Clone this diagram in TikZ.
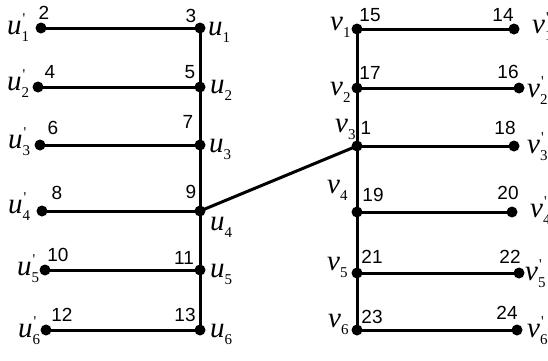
\documentclass[tikz,border=0pt]{standalone}
\usepackage{fontspec}
\setmainfont{Liberation Serif}
\newfontfamily\numfont{Liberation Sans}
\newcommand\lbl[2]{{\fontsize{29}{29}\selectfont\itshape #1}{\fontsize{15}{15}\selectfont\raisebox{-7pt}{#2}}}
\newcommand\plbl[2]{{\fontsize{29}{29}\selectfont\itshape #1}{\fontsize{15}{15}\selectfont\raisebox{-7pt}{\rlap{\hspace{1pt}\raisebox{18pt}{\textquotesingle}}#2}}}
\begin{document}
\begin{tikzpicture}[x=1pt,y=-1pt,
  dot/.style={circle,fill=black,inner sep=0pt,minimum size=11pt},
  edge/.style={line width=3pt},
  num/.style={inner sep=0pt,font=\numfont\fontsize{19}{19}\selectfont},
  lab/.style={inner sep=0pt,anchor=base west}]
\useasboundingbox (0,0) rectangle (548,360);
% left
\node[dot] (u1) at (200,28) {};
\node[dot] (u2) at (200,87) {};
\node[dot] (u3) at (200,145) {};
\node[dot] (u4) at (200,211) {};
\node[dot] (u5) at (200,270) {};
\node[dot] (u6) at (200,330) {};
\node[dot] (up1) at (41,28) {};
\node[dot] (up2) at (38,87) {};
\node[dot] (up3) at (40,145) {};
\node[dot] (up4) at (42,211) {};
\node[dot] (up5) at (45,270) {};
\node[dot] (up6) at (46,330) {};
% right
\node[dot] (v1) at (357,29) {};
\node[dot] (v2) at (357,88) {};
\node[dot] (v3) at (357,146) {};
\node[dot] (v4) at (357,212) {};
\node[dot] (v5) at (357,273) {};
\node[dot] (v6) at (357,330) {};
\node[dot] (vp1) at (514,29) {};
\node[dot] (vp2) at (519,88) {};
\node[dot] (vp3) at (514,146) {};
\node[dot] (vp4) at (512,212) {};
\node[dot] (vp5) at (519,273) {};
\node[dot] (vp6) at (517,330) {};
% edges
\draw[edge] (u1.center) -- (u2.center) -- (u3.center) -- (u4.center) -- (u5.center) -- (u6.center);
\draw[edge] (v1.center) -- (v2.center) -- (v3.center) -- (v4.center) -- (v5.center) -- (v6.center);
\foreach \i in {1,...,6}{
  \draw[edge] (up\i.center) -- (u\i.center);
  \draw[edge] (v\i.center) -- (vp\i.center);
}
\draw[edge] (u4.center) -- (v3.center);
% numbers
\node[num] (n2) at (44,13) {2};
\node[num] (n3) at (191,16) {3};
\node[num] (n4) at (50,72) {4};
\node[num] (n5) at (190,72) {5};
\node[num] (n6) at (53,128) {6};
\node[num] (n7) at (188,122) {7};
\node[num] (n8) at (57,193) {8};
\node[num] (n9) at (191,192) {9};
\node[num] (n10) at (58,255) {10};
\node[num] (n11) at (184,258) {11};
\node[num] (n12) at (62,315) {12};
\node[num] (n13) at (185,315) {13};
\node[num] (n15) at (370,15) {15};
\node[num] (n14) at (503,15) {14};
\node[num] (n17) at (370,73) {17};
\node[num] (n16) at (508,72) {16};
\node[num] (n1) at (366,128) {1};
\node[num] (n18) at (505,128) {18};
\node[num] (n19) at (373,195) {19};
\node[num] (n20) at (508,193) {20};
\node[num] (n21) at (372,257) {21};
\node[num] (n22) at (510,257) {22};
\node[num] (n23) at (372,317) {23};
\node[num] (n24) at (507,313) {24};
% letter labels
\node[lab] (lu1) at (208,35) {\lbl{u}{1}};
\node[lab] (lu2) at (210,93) {\lbl{u}{2}};
\node[lab] (lu3) at (209,152) {\lbl{u}{3}};
\node[lab] (lu4) at (210,230) {\lbl{u}{4}};
\node[lab] (lu5) at (210,277) {\lbl{u}{5}};
\node[lab] (lu6) at (210,337) {\lbl{u}{6}};
\node[lab] (lup1) at (7,34) {\plbl{u}{1}};
\node[lab] (lup2) at (7,90) {\plbl{u}{2}};
\node[lab] (lup3) at (8,148) {\plbl{u}{3}};
\node[lab] (lup4) at (8,213) {\plbl{u}{4}};
\node[lab] (lup5) at (17,275) {\plbl{u}{5}};
\node[lab] (lup6) at (18,337) {\plbl{u}{6}};
\node[lab] (lv1) at (330,30) {\lbl{v}{1}};
\node[lab] (lv2) at (330,95) {\lbl{v}{2}};
\node[lab] (lv3) at (335,132) {\lbl{v}{3}};
\node[lab] (lv4) at (327,193) {\lbl{v}{4}};
\node[lab] (lv5) at (327,270) {\lbl{v}{5}};
\node[lab] (lv6) at (328,327) {\lbl{v}{6}};
\node[lab] (lvp1) at (532,33) {\plbl{v}{1}};
\node[lab] (lvp2) at (527,97) {\plbl{v}{2}};
\node[lab] (lvp3) at (527,153) {\plbl{v}{3}};
\node[lab] (lvp4) at (530,217) {\plbl{v}{4}};
\node[lab] (lvp5) at (525,280) {\plbl{v}{5}};
\node[lab] (lvp6) at (527,337) {\plbl{v}{6}};
\end{tikzpicture}
\end{document}
